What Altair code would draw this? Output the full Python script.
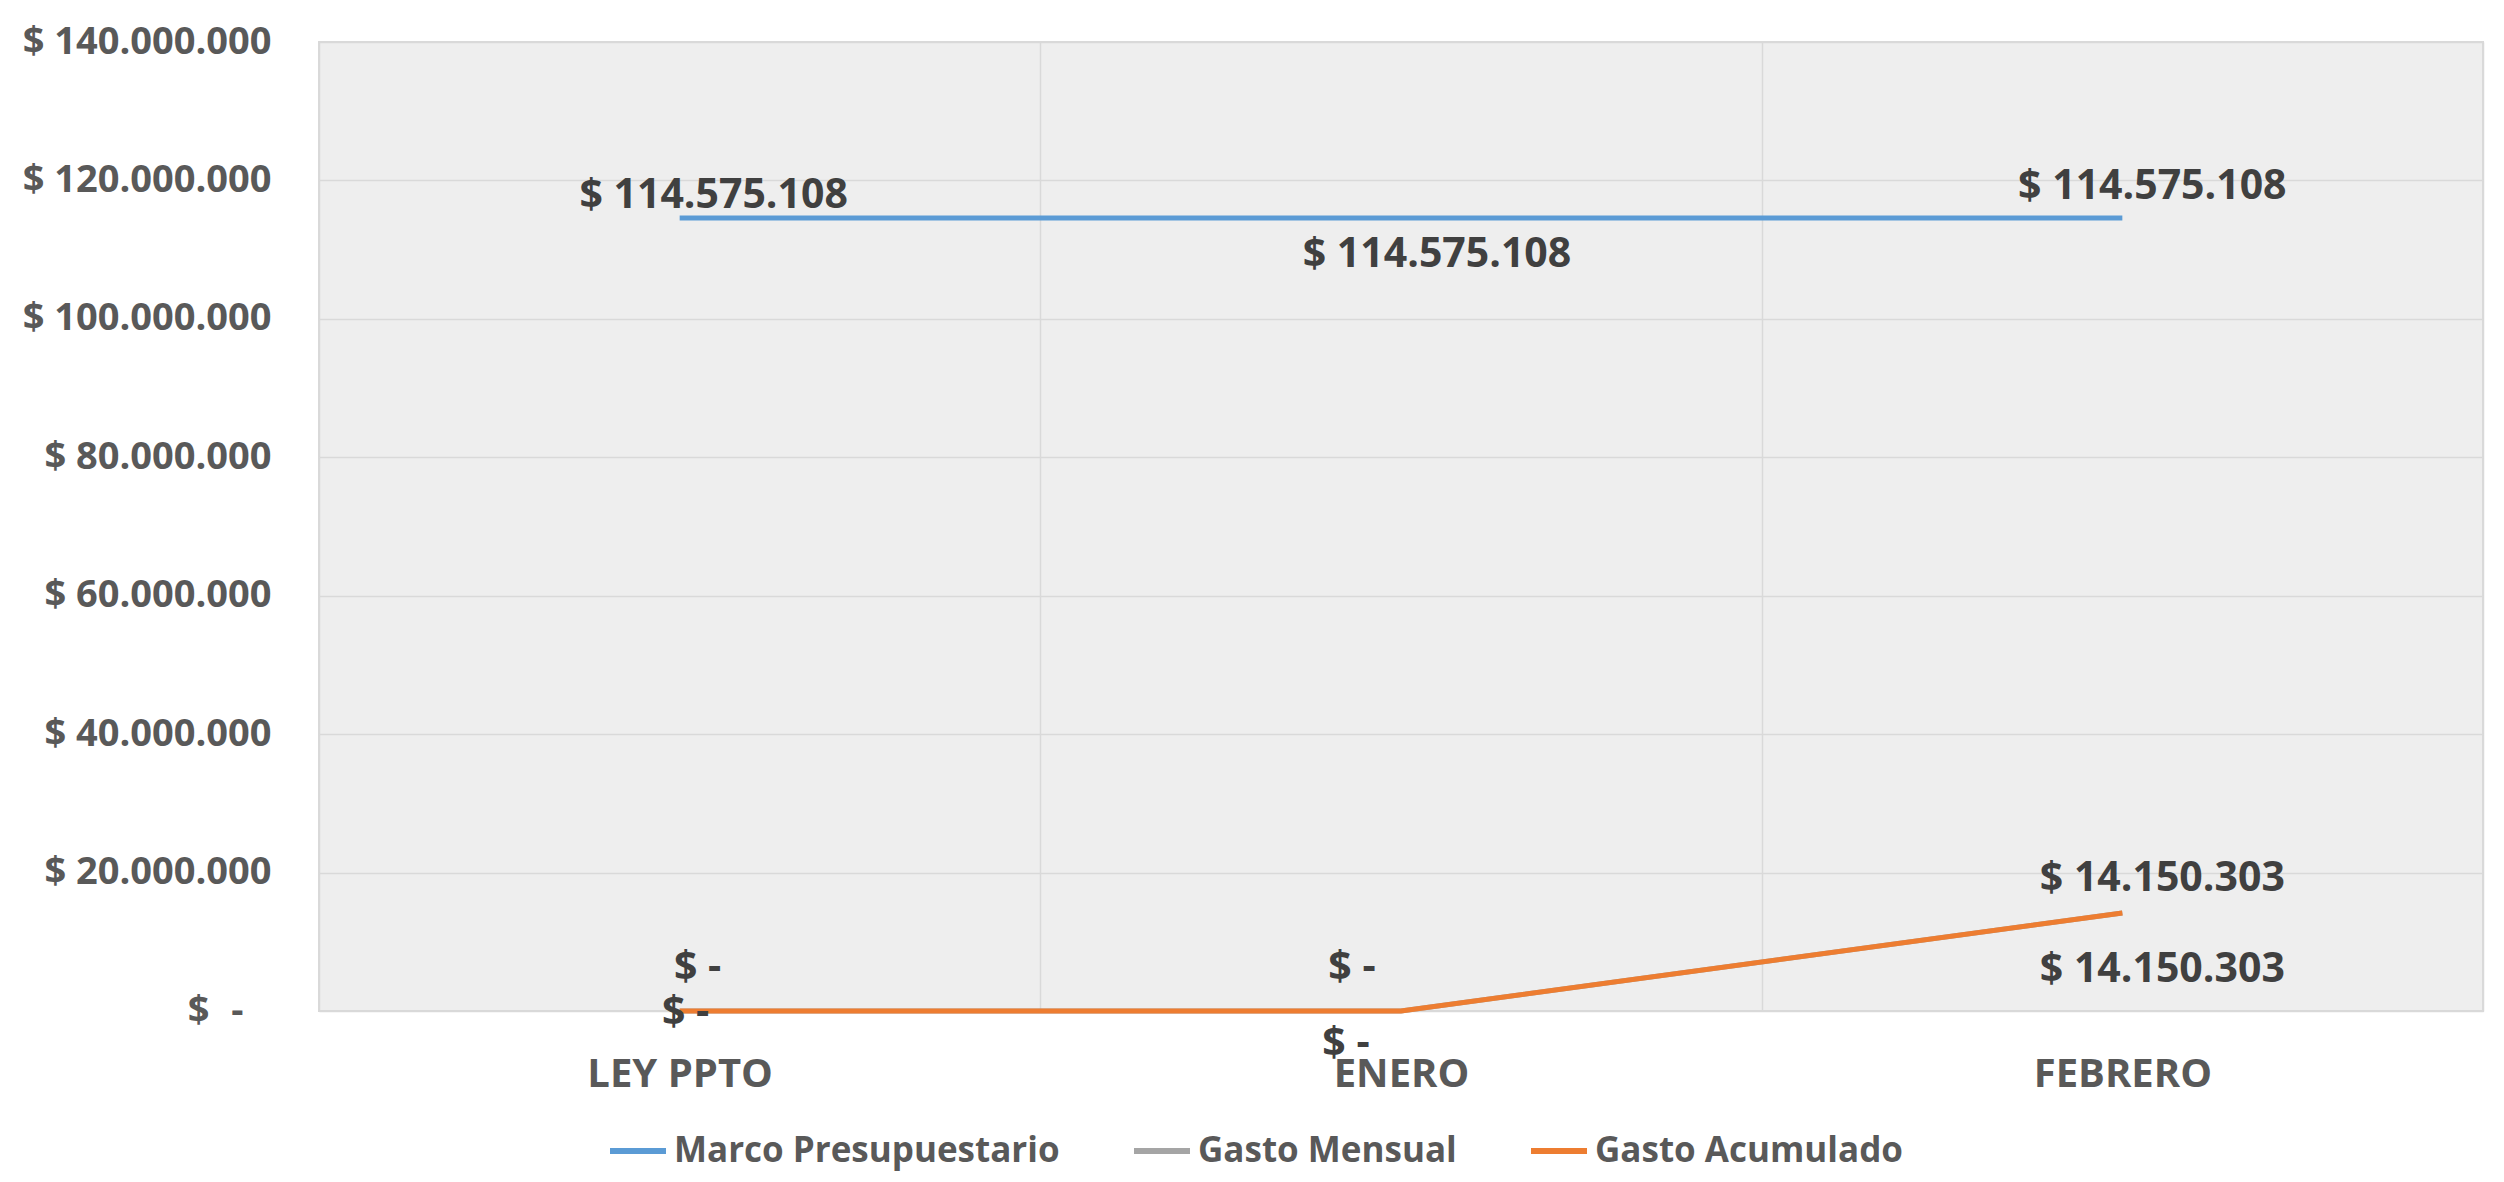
import altair as alt
import pandas as pd

# ---------------- data ----------------
categories = ["LEY PPTO", "ENERO", "FEBRERO"]
series_names = ["Marco Presupuestario", "Gasto Mensual", "Gasto Acumulado"]
marco = [114575108, 114575108, 114575108]
mensual = [0, 0, 14150303]
acumulado = [0, 0, 14150303]
y_ticks = [0, 20000000, 40000000, 60000000, 80000000, 100000000, 120000000, 140000000]
colors = ["#5B9BD5", "#A5A5A5", "#ED7D31"]


def fmt(v):
    return "$ -" if v == 0 else "$ " + f"{v:,}".replace(",", ".")


rows = []
for s, vals in zip(series_names, [marco, mensual, acumulado]):
    for c, v in zip(categories, vals):
        rows.append({"cat": c, "series": s, "value": v, "label": fmt(v)})
df = pd.DataFrame(rows)

# ---------------- styling ----------------
FONT = "Open Sans"
W, H = 2164, 969
FS = "\u2007"  # figure space
BLANK = "\u2800"  # blank glyph that is not trimmed
zero_label = "$" + FS + "-" + BLANK

label_offsets = {
    ("Marco Presupuestario", "LEY PPTO"): (34, -22),
    ("Marco Presupuestario", "ENERO"): (36, 37),
    ("Marco Presupuestario", "FEBRERO"): (30, -31),
    ("Gasto Mensual", "LEY PPTO"): (18, -43),
    ("Gasto Mensual", "ENERO"): (-49, -43),
    ("Gasto Mensual", "FEBRERO"): (40, -34),
    ("Gasto Acumulado", "LEY PPTO"): (6, 2),
    ("Gasto Acumulado", "ENERO"): (-55, 33),
    ("Gasto Acumulado", "FEBRERO"): (40, 57),
}

x_enc = alt.X(
    "cat:N",
    sort=categories,
    scale=alt.Scale(type="band", domain=categories, paddingInner=0, paddingOuter=0),
    axis=alt.Axis(
        title=None,
        domain=False,
        ticks=False,
        grid=True,
        tickBand="extent",
        gridColor="#d9d9d9",
        gridWidth=1.5,
        labelFont=FONT,
        labelFontSize=40,
        labelFontWeight="bold",
        labelColor="#595959",
        labelPadding=43,
        labelAngle=0,
        labelLimit=600,
    ),
)

y_enc = alt.Y(
    "value:Q",
    scale=alt.Scale(domain=[0, 140000000], nice=False, zero=True),
    axis=alt.Axis(
        title=None,
        values=y_ticks,
        domain=False,
        ticks=False,
        grid=True,
        gridColor="#d9d9d9",
        gridWidth=1.5,
        labelFont=FONT,
        labelFontSize=38,
        labelFontWeight="bold",
        labelColor="#595959",
        labelPadding=48,
        labelLimit=600,
        labelExpr="datum.value == 0 ? '" + zero_label + "' : '$ ' + replace(format(datum.value, ',d'), regexp(',', 'g'), '.')",
    ),
)

color_enc = alt.Color(
    "series:N",
    scale=alt.Scale(domain=series_names, range=colors),
    legend=alt.Legend(
        title=None,
        orient="none",
        legendX=288,
        legendY=1078,
        direction="horizontal",
        symbolType="stroke",
        symbolSize=3136,
        symbolStrokeWidth=6,
        labelFont=FONT,
        labelFontSize=35,
        labelFontWeight="bold",
        labelColor="#595959",
        labelOffset=5,
        columnPadding=62,
        padding=0,
        labelLimit=1000,
    ),
)

base = alt.Chart(df)

layers = []
for s in series_names:
    layers.append(
        base.transform_filter(alt.datum.series == s)
        .mark_line(strokeWidth=5)
        .encode(x=x_enc, y=y_enc, color=color_enc)
    )

for s in series_names:
    for c in categories:
        dx, dy = label_offsets[(s, c)]
        layers.append(
            base.transform_filter((alt.datum.series == s) & (alt.datum.cat == c))
            .mark_text(
                dx=dx,
                dy=dy,
                font=FONT,
                fontSize=41,
                fontWeight="bold",
                color="#404040",
                align="center",
                baseline="middle",
            )
            .encode(x=x_enc, y=y_enc, text="label:N")
        )

chart = (
    alt.layer(*layers)
    .properties(
        width=W,
        height=H,
        autosize=alt.AutoSizeParams(type="none"),
        padding={"left": 311, "top": 34, "right": 10, "bottom": 161},
        background="white",
    )
    .configure_view(fill="#eeeeee", stroke="#d9d9d9", strokeWidth=2)
)

chart.save("out.html", embed_options={"renderer": "svg", "actions": False})
